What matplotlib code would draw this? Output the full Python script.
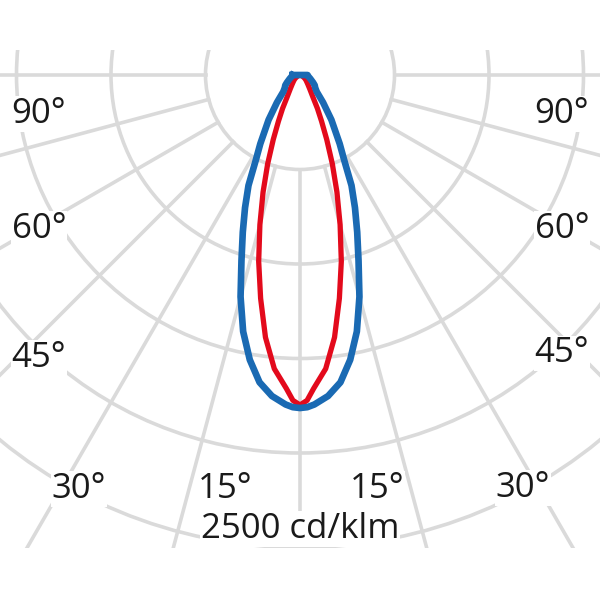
"""
Polar light distribution curve (cd/klm) with two C-planes.
"""

import matplotlib.pyplot as plt
import numpy as np
from matplotlib.patches import Circle

# angles from nadir (degrees) and intensities (cd/klm)
angles = [0, 1.25, 2.5, 5, 7.5, 10, 12.5, 15, 17.5, 20, 22.5, 25, 27.5, 30,
          35, 40, 45, 50, 55, 60, 70, 80, 90]
blue_cd = [1762, 1758, 1745, 1705, 1640, 1530, 1390, 1215, 1030, 885, 760,
           645, 505, 420, 290, 190, 125, 105, 95, 80, 58, 45, 40]
red_cd = [1746, 1722, 1660, 1560, 1400, 1200, 1010, 820, 650, 500, 370,
          270, 200, 140, 90, 65, 50, 40, 30, 20, 10, 5, 0]

rings = [500, 1000, 1500, 2000, 2500]
spokes = [-90, -75, -60, -45, -30, -15, 0, 15, 30, 45, 60, 75, 90]

# label text, x, y (data units)
labels = [
    ("90°", -1381, -254), ("90°", 1386, -254),
    ("60°", -1381, -862), ("60°", 1386, -862),
    ("45°", -1381, -1545), ("45°", 1386, -1520),
    ("30°", -1169, -2238), ("30°", 1180, -2233),
    ("15°", -397, -2238), ("15°", 407, -2238),
    ("2500 cd/klm", 0, -2450),
]

GRID = "#dadada"
BLUE = "#1a6ab3"
RED = "#e30a1c"

px = 500 / 94.5  # data units per pixel

fig = plt.figure(figsize=(6, 6), dpi=100)
ax = fig.add_axes([0, 52 / 600, 1, 498 / 600])
ax.set_xlim(-300 * px, 300 * px)
ax.set_ylim(-473 * px, 25 * px)
ax.set_aspect("equal")
ax.axis("off")

for r in rings:
    ax.add_patch(Circle((0, 0), r, fill=False, ec=GRID, lw=2.6, zorder=1))

for a in spokes:
    t = np.radians(a)
    ax.plot([500 * np.sin(t), 4000 * np.sin(t)],
            [-500 * np.cos(t), -4000 * np.cos(t)],
            color=GRID, lw=2.6, zorder=1)


def curve(vals):
    # mirror the half-curve and close it
    th = np.radians(np.array(angles))
    r = np.array(vals, dtype=float)
    th = np.concatenate([-th[::-1], th[1:], [-th[-1]]])
    r = np.concatenate([r[::-1], r[1:], [r[-1]]])
    return r * np.sin(th), -r * np.cos(th)


x, y = curve(red_cd)
ax.plot(x, y, color=RED, lw=3.8, zorder=3, solid_joinstyle="round")
x, y = curve(blue_cd)
ax.plot(x, y, color=BLUE, lw=4.8, zorder=4, solid_joinstyle="round")

for text, tx, ty in labels:
    ax.text(tx, ty, text, ha="center", va="baseline", fontsize=25,
            family="Open Sans", color="#1a1a1a", zorder=5,
            bbox=dict(facecolor="white", edgecolor="none", pad=0.5))

fig.savefig("out.png", dpi=100)
